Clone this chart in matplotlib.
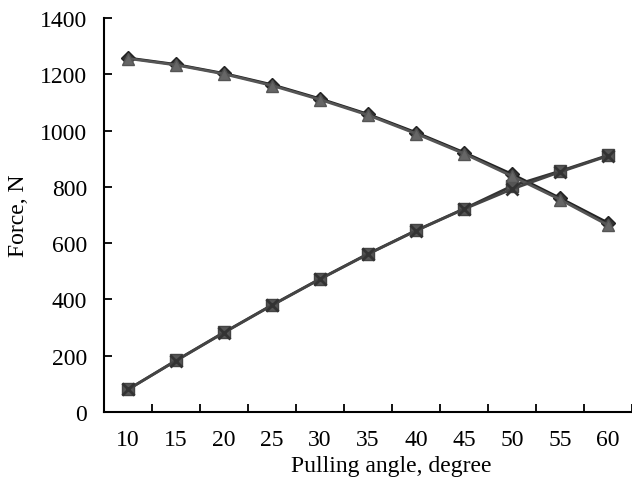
import matplotlib.pyplot as plt
import numpy as np

angles = [10, 15, 20, 25, 30, 35, 40, 45, 50, 55, 60]
normal_a = [1258, 1235, 1203, 1163, 1113, 1058, 993, 922, 845, 760, 672]
normal_b = [1256, 1233, 1201, 1160, 1110, 1055, 989, 918, 838, 755, 664]
pull_a = [80, 183, 283, 380, 473, 562, 645, 722, 803, 856, 912]
pull_b = [80, 182, 282, 379, 472, 561, 644, 721, 792, 853, 910]
yticks = [0, 200, 400, 600, 800, 1000, 1200, 1400]


def main():
    plt.rcParams['font.family'] = ['Liberation Serif', 'DejaVu Serif']
    fig = plt.figure(figsize=(6.32, 4.81), dpi=100)
    ax = fig.add_axes((104 / 632, 1 - 413 / 481, 1 - 104 / 632, (413 - 19) / 481))

    x = np.arange(len(angles))
    ax.plot(x, normal_a, color='#222222', lw=2, marker='D', ms=7,
            mfc='#333333', mec='#222222', zorder=3)
    ax.plot(x, normal_b, color='#555555', lw=2, marker='^', ms=9,
            mfc='#666666', mec='#555555', zorder=4)
    ax.plot(x, pull_a, color='#333333', lw=2, marker='s', ms=8,
            mfc='#555555', mec='#444444', zorder=3)
    ax.plot(x, pull_b, color='#444444', lw=2, marker='x', ms=8,
            mew=2, mec='#333333', zorder=4)

    ax.set_xlim(-0.5, len(angles) - 0.5)
    ax.set_ylim(0, 1400)
    ax.set_xticks(x)
    ax.set_xticklabels([str(a) for a in angles])
    ax.set_xticks(np.arange(len(angles)) + 0.5, minor=True)
    ax.tick_params(axis='x', which='major', length=0, labelsize=17, pad=12)
    ax.tick_params(axis='x', which='minor', length=6, width=1.3, direction='in')
    ax.set_yticks(yticks)
    ax.tick_params(axis='y', length=6, width=1.3, direction='in', labelsize=17, pad=12)

    for s in ['top', 'right']:
        ax.spines[s].set_visible(False)
    for s in ['left', 'bottom']:
        ax.spines[s].set_linewidth(1.5)

    ax.set_xlabel('Pulling angle, degree', fontsize=17)
    ax.xaxis.set_label_coords(0.544, -0.108)
    ax.set_ylabel('Force, N', fontsize=17, labelpad=8)

    plt.savefig('out.png', dpi=100)


if __name__ == '__main__':
    main()
